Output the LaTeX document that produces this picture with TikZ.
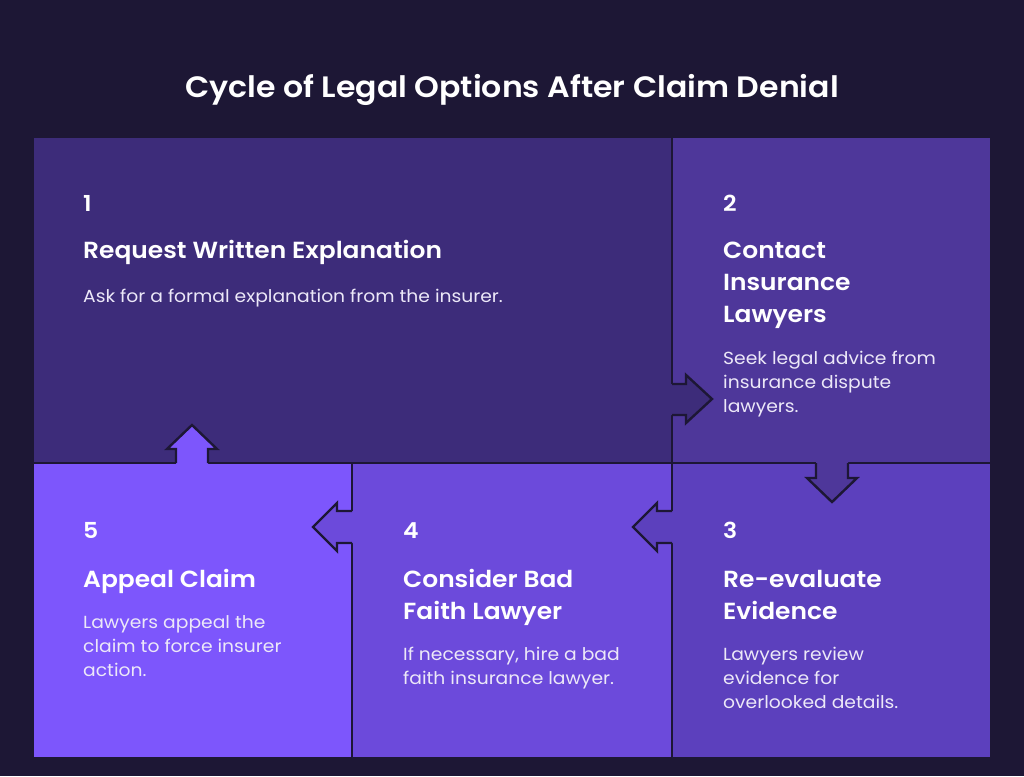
\documentclass[tikz,border=0pt]{standalone}
\usepackage{fontspec}
\setmainfont{Poppins}[FakeStretch=1.07, BoldFont={Poppins SemiBold}]
\definecolor{bg}{HTML}{1D1735}
\definecolor{pa}{HTML}{3D2C7A}
\definecolor{pb}{HTML}{4E379A}
\definecolor{pc}{HTML}{5C40BD}
\definecolor{pd}{HTML}{6C4ADB}
\definecolor{pe}{HTML}{7D56FC}
\definecolor{desccol}{HTML}{ECE8F8}
\tikzset{
  panel/.style={draw=bg, line width=2pt},
  arrowline/.style={draw=bg, line width=2.4pt, line join=miter},
  numtxt/.style={anchor=base west, inner sep=0pt, text=white, font=\bfseries\fontsize{22}{22}\selectfont},
  headtxt/.style={anchor=base west, inner sep=0pt, text=white, font=\bfseries\fontsize{23.3}{23.3}\selectfont},
  desctxt/.style={anchor=base west, inner sep=0pt, text=desccol, font=\fontsize{17.5}{17.5}\selectfont},
  titletxt/.style={anchor=base, inner sep=0pt, text=white, font=\bfseries\fontsize{29.5}{29.5}\selectfont}
}
\begin{document}
\begin{tikzpicture}[x=1pt,y=-1pt]
\fill[bg] (0,0) rectangle (1024,776);
\useasboundingbox (0,0) rectangle (1024,776);
% panels
\path[panel, fill=pa] (33,137) rectangle (672,463);
\path[panel, fill=pb] (672,137) rectangle (991,463);
\path[panel, fill=pc] (672,463) rectangle (991,758);
\path[panel, fill=pd] (352,463) rectangle (672,758);
\path[panel, fill=pe] (33,463) rectangle (352,758);
% arrow 1 -> 2
\fill[pa] (668,384) -- (686,384) -- (686,375) -- (712,399) -- (686,423) -- (686,415) -- (668,415) -- cycle;
\draw[arrowline] (672,384) -- (686,384) -- (686,375) -- (712,399) -- (686,423) -- (686,415) -- (672,415);
% arrow 2 -> 3
\fill[pb] (816,459) -- (816,478) -- (807,478) -- (832,502) -- (857,478) -- (848,478) -- (848,459) -- cycle;
\draw[arrowline] (816,463) -- (816,478) -- (807,478) -- (832,502) -- (857,478) -- (848,478) -- (848,463);
% arrow 3 -> 4
\fill[pc] (676,511) -- (657,511) -- (657,503) -- (633,527) -- (657,551) -- (657,543) -- (676,543) -- cycle;
\draw[arrowline] (672,511) -- (657,511) -- (657,503) -- (633,527) -- (657,551) -- (657,543) -- (672,543);
% arrow 4 -> 5
\fill[pd] (356,511) -- (337,511) -- (337,503) -- (313,527) -- (337,551) -- (337,543) -- (356,543) -- cycle;
\draw[arrowline] (352,511) -- (337,511) -- (337,503) -- (313,527) -- (337,551) -- (337,543) -- (352,543);
% arrow 5 -> 1
\fill[pe] (176,467) -- (176,449) -- (167,449) -- (192,425) -- (217,449) -- (208,449) -- (208,467) -- cycle;
\draw[arrowline] (176,463) -- (176,449) -- (167,449) -- (192,425) -- (217,449) -- (208,449) -- (208,463);
% title
\node[titletxt] (title) at (512,97) {Cycle of Legal Options After Claim Denial};
% panel 1
\node[numtxt] (n1) at (83,211) {1};
\node[headtxt] (h1) at (83,258) {Request Written Explanation};
\node[desctxt] (d1) at (83,302) {Ask for a formal explanation from the insurer.};
% panel 2
\node[numtxt] (n2) at (723,211) {2};
\node[headtxt] (h2a) at (723,258) {Contact};
\node[headtxt] (h2b) at (723,290) {Insurance};
\node[headtxt] (h2c) at (723,322) {Lawyers};
\node[desctxt] (d2a) at (723,364) {Seek legal advice from};
\node[desctxt] (d2b) at (723,388) {insurance dispute};
\node[desctxt] (d2c) at (723,412) {lawyers.};
% panel 3
\node[numtxt] (n3) at (723,538) {3};
\node[headtxt] (h3a) at (723,587) {Re-evaluate};
\node[headtxt] (h3b) at (723,619) {Evidence};
\node[desctxt] (d3a) at (723,660) {Lawyers review};
\node[desctxt] (d3b) at (723,684) {evidence for};
\node[desctxt] (d3c) at (723,708) {overlooked details.};
% panel 4
\node[numtxt] (n4) at (403,538) {4};
\node[headtxt] (h4a) at (403,587) {Consider Bad};
\node[headtxt] (h4b) at (403,619) {Faith Lawyer};
\node[desctxt] (d4a) at (403,660) {If necessary, hire a bad};
\node[desctxt] (d4b) at (403,684) {faith insurance lawyer.};
% panel 5
\node[numtxt] (n5) at (83,538) {5};
\node[headtxt] (h5) at (83,587) {Appeal Claim};
\node[desctxt] (d5a) at (83,628) {Lawyers appeal the};
\node[desctxt] (d5b) at (83,652) {claim to force insurer};
\node[desctxt] (d5c) at (83,676) {action.};
\end{tikzpicture}
\end{document}
